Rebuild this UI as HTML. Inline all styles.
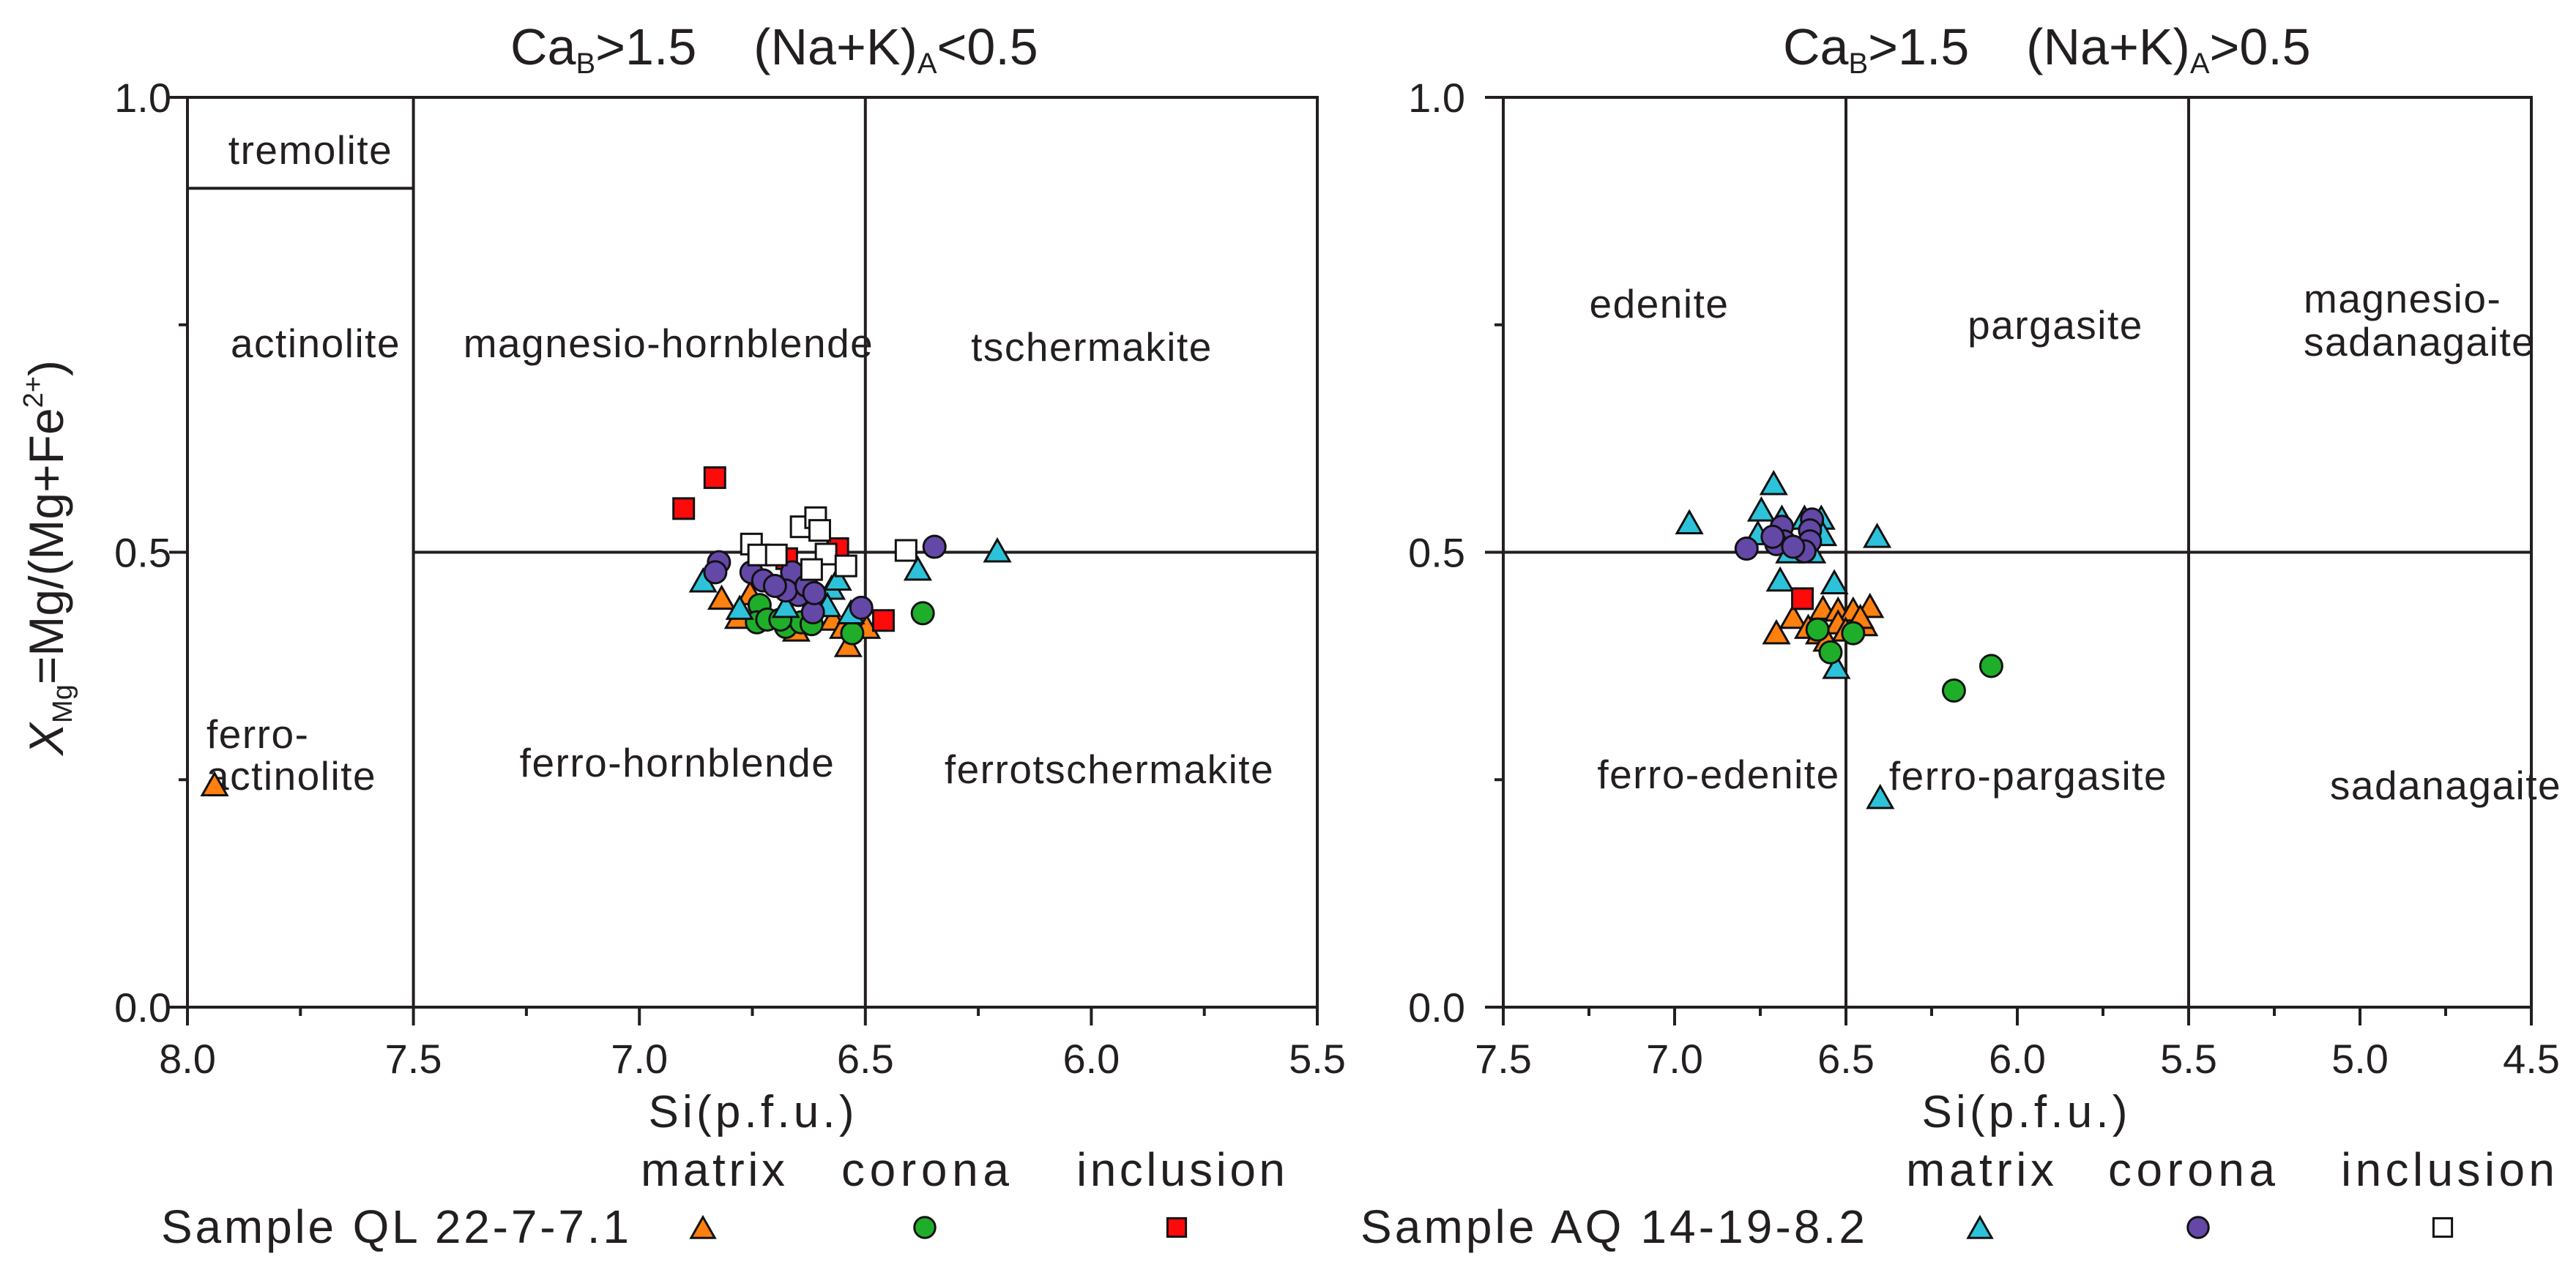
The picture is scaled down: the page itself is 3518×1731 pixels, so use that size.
<!DOCTYPE html>
<html><head><meta charset="utf-8"><style>
html,body{margin:0;padding:0;background:#fff;}
svg{display:block;}
text{font-family:"Liberation Sans",Arial,sans-serif;fill:#231f20;}
</style></head>
<body>
<svg id="chart" width="3518" height="1731" viewBox="0 0 3518 1731" xmlns="http://www.w3.org/2000/svg">
<rect width="3518" height="1731" fill="#fff"/>
<g id="layer"></g>
</svg>
<script>
// ---- Data: left panel (CaB>1.5, (Na+K)A<0.5) ----
const L_orange_x=[6.818,6.755,6.781,6.538,6.572,6.549,6.653,6.497,7.94];
const L_orange_y=[0.450,0.455,0.429,0.398,0.427,0.418,0.415,0.418,0.245];
const L_green_x=[6.734,6.740,6.717,6.676,6.642,6.619,6.688,6.529,6.373];
const L_green_y=[0.442,0.423,0.426,0.418,0.423,0.421,0.426,0.411,0.433];
const L_red_x=[6.833,6.902,6.460,6.561,6.674];
const L_red_y=[0.582,0.548,0.425,0.504,0.493];
const L_cyan_x=[6.859,6.778,6.575,6.561,6.384,6.208,6.584,6.532,6.676];
const L_cyan_y=[0.469,0.439,0.461,0.471,0.482,0.502,0.442,0.434,0.441];
const L_purple_x=[6.824,6.832,6.752,6.726,6.662,6.648,6.676,6.616,6.509,6.347,6.700,6.630,6.613];
const L_purple_y=[0.489,0.478,0.478,0.469,0.478,0.453,0.458,0.434,0.439,0.506,0.463,0.463,0.455];
const L_white_x=[6.752,6.736,6.697,6.642,6.610,6.601,6.587,6.619,6.543,6.410];
const L_white_y=[0.509,0.497,0.497,0.528,0.538,0.524,0.498,0.481,0.485,0.502];
// ---- Data: right panel (CaB>1.5, (Na+K)A>0.5) ----
const R_cyan_x=[6.957,6.711,6.747,6.757,6.687,6.621,6.572,6.567,6.409,6.692,6.534,6.528,6.665,6.599,6.40];
const R_cyan_y=[0.533,0.576,0.547,0.521,0.538,0.538,0.538,0.520,0.518,0.470,0.467,0.374,0.501,0.501,0.231];
const R_purple_x=[6.790,6.687,6.681,6.599,6.605,6.605,6.703,6.621,6.654,6.714];
const R_purple_y=[0.504,0.528,0.512,0.536,0.524,0.512,0.509,0.501,0.506,0.517];
const R_orange_x=[6.703,6.654,6.567,6.523,6.479,6.430,6.447,6.578,6.523,6.458,6.610,6.501,6.556];
const R_orange_y=[0.412,0.429,0.439,0.437,0.437,0.441,0.421,0.412,0.423,0.429,0.418,0.415,0.404];
const R_green_x=[6.583,6.479,6.545,6.185,6.076];
const R_green_y=[0.415,0.411,0.390,0.348,0.375];
const R_red_x=[6.627];
const R_red_y=[0.449];
// ticks
const L_xticks=[8.0,7.5,7.0,6.5,6.0,5.5];
const R_xticks=[7.5,7.0,6.5,6.0,5.5,5.0,4.5];
const yticks=[0.0,0.5,1.0];

const NS="http://www.w3.org/2000/svg";
const layer=document.getElementById('layer');
function mk(tag,attrs,parent){const e=document.createElementNS(NS,tag);for(const k in attrs)e.setAttribute(k,attrs[k]);(parent||layer).appendChild(e);return e;}
const COL={orange:'#ff7f0f',green:'#1fae2a',red:'#ff0a0a',cyan:'#2cc3da',purple:'#6448a8',white:'#ffffff'};

const TOP=133,BOT=1376;
function yS(v){return BOT-(BOT-TOP)*v;}
const LP={x0:256,x1:1799,d0:8.0,d1:5.5};
const RP={x0:2053,x1:3457,d0:7.5,d1:4.5};
function xS(p,v){return p.x0+(p.x1-p.x0)*(p.d0-v)/(p.d0-p.d1);}

function line(x1,y1,x2,y2,name,w){const l=mk('line',{x1:x1,y1:y1,x2:x2,y2:y2,stroke:'#231f20','stroke-width':w||4});

return l;}
function txt(x,y,s,size,name,opts){const t=mk('text',Object.assign({x:x,y:y,'font-size':size},opts||{}));t.textContent=s;

return t;}

function marker(shape,color,cx,cy,name,sz){
  sz=sz||1;let e;
  if(shape==='tri'){const w=17*sz,h=15*sz;e=mk('polygon',{points:`${cx},${cy-h} ${cx-w},${cy+h} ${cx+w},${cy+h}`,fill:color,stroke:'#111','stroke-width':3,'stroke-linejoin':'miter'});}
  else if(shape==='circ'){e=mk('circle',{cx:cx,cy:cy,r:15*sz,fill:color,stroke:'#111','stroke-width':3});}
  else {const s=14*sz;e=mk('rect',{x:cx-s,y:cy-s,width:2*s,height:2*s,fill:color,stroke:'#111','stroke-width':3});}
  
  
  return e;
}
function series(p,xs,ys,shape,color,name){for(let i=0;i<xs.length;i++){marker(shape,color,xS(p,xs[i]),yS(ys[i]),name);}}

function axes(p,xticks,prefix,labelRight){
  const fr=mk('rect',{x:p.x0,y:TOP,width:p.x1-p.x0,height:BOT-TOP,fill:'none',stroke:'#231f20','stroke-width':4});
  
  
  for(let v=p.d0;v>=p.d1-1e-9;v-=0.25){
    const major=Math.abs(v*2-Math.round(v*2))<1e-6;
    const x=xS(p,v);
    line(x,BOT,x,BOT+(major?25:12),prefix+'-x-tick',4);
  }
  xticks.forEach(v=>{txt(xS(p,v),1466,v.toFixed(1),56,prefix+'-x-tick-label',{'text-anchor':'middle'});});
  for(let v=0;v<=1.0001;v+=0.25){
    const major=Math.abs(v*2-Math.round(v*2))<1e-6;
    line(p.x0,yS(v),p.x0-(major?25:12),yS(v),prefix+'-y-tick',4);
  }
  yticks.forEach(v=>{txt(labelRight,yS(v)+20,v.toFixed(1),56,prefix+'-y-tick-label',{'text-anchor':'end'});});
}

const rl={'letter-spacing':1.5,'text-anchor':'middle'};
const ll={'letter-spacing':1.5};
// ---- Left panel ----
axes(LP,L_xticks,'left',234);
line(xS(LP,7.5),TOP,xS(LP,7.5),BOT,'left-boundary-7.5');
line(xS(LP,6.5),TOP,xS(LP,6.5),BOT,'left-boundary-6.5');
line(xS(LP,8.0),yS(0.9),xS(LP,7.5),yS(0.9),'tremolite-boundary');
line(xS(LP,7.5),yS(0.5),LP.x1,yS(0.5),'left-boundary-0.5');
txt(424,224,'tremolite',55,'tremolite-label',rl);
txt(431,488,'actinolite',55,'actinolite-label',rl);
txt(913,488,'magnesio-hornblende',55,'magnesio-hornblende-label',rl);
txt(1491,493,'tschermakite',55,'tschermakite-label',rl);
txt(282,1022,'ferro-',55,'ferro-actinolite-label',ll);
txt(282,1079,'actinolite',55,'ferro-actinolite-label-line2',ll);
txt(925,1061,'ferro-hornblende',55,'ferro-hornblende-label',rl);
txt(1515,1070,'ferrotschermakite',55,'ferrotschermakite-label',rl);
series(LP,L_orange_x,L_orange_y,'tri',COL.orange,'ql-matrix-point');
series(LP,L_green_x,L_green_y,'circ',COL.green,'ql-corona-point');
series(LP,L_red_x,L_red_y,'sq',COL.red,'ql-inclusion-point');
series(LP,L_cyan_x,L_cyan_y,'tri',COL.cyan,'aq-matrix-point');
series(LP,L_purple_x,L_purple_y,'circ',COL.purple,'aq-corona-point');
series(LP,L_white_x,L_white_y,'sq',COL.white,'aq-inclusion-point');

// ---- Right panel ----
axes(RP,R_xticks,'right',2001);
line(xS(RP,6.5),TOP,xS(RP,6.5),BOT,'right-boundary-6.5');
line(xS(RP,5.5),TOP,xS(RP,5.5),BOT,'right-boundary-5.5');
line(RP.x0,yS(0.5),RP.x1,yS(0.5),'right-boundary-0.5');
txt(2266,434,'edenite',55,'edenite-label',rl);
txt(2807,463,'pargasite',55,'pargasite-label',rl);
txt(3146,427,'magnesio-',55,'magnesio-sadanagaite-label',ll);
txt(3146,486,'sadanagaite',55,'magnesio-sadanagaite-label-line2',ll);
txt(2347,1077,'ferro-edenite',55,'ferro-edenite-label',rl);
txt(2770,1079,'ferro-pargasite',55,'ferro-pargasite-label',rl);
txt(3340,1092,'sadanagaite',55,'sadanagaite-label',rl);
series(RP,R_cyan_x,R_cyan_y,'tri',COL.cyan,'aq-matrix-point');
series(RP,R_purple_x,R_purple_y,'circ',COL.purple,'aq-corona-point');
series(RP,R_orange_x,R_orange_y,'tri',COL.orange,'ql-matrix-point');
series(RP,R_green_x,R_green_y,'circ',COL.green,'ql-corona-point');
series(RP,R_red_x,R_red_y,'sq',COL.red,'ql-inclusion-point');

// ---- Axis titles ----
txt(1026,1540,'Si(p.f.u.)',62,'left-x-axis-title',{'text-anchor':'middle','textLength':281});
txt(2765,1540,'Si(p.f.u.)',62,'right-x-axis-title',{'text-anchor':'middle','textLength':281});

// ---- Legend ----
txt(875,1620,'matrix',64,'legend-matrix-header-left',{textLength:197});
txt(1149,1620,'corona',64,'legend-corona-header-left',{textLength:229});
txt(1470,1620,'inclusion',64,'legend-inclusion-header-left',{textLength:285});
txt(2603,1620,'matrix',64,'legend-matrix-header-right',{textLength:202});
txt(2879,1620,'corona',64,'legend-corona-header-right',{textLength:228});
txt(3197,1620,'inclusion',64,'legend-inclusion-header-right',{textLength:292});
txt(220,1698,'Sample QL 22-7-7.1',64,'legend-sample-ql',{textLength:639});
txt(1858,1698,'Sample AQ 14-19-8.2',64,'legend-sample-aq',{textLength:689});
marker('tri',COL.orange,960,1677,'legend-ql-matrix-symbol',0.95);
marker('circ',COL.green,1263,1677,'legend-ql-corona-symbol',0.95);
marker('sq',COL.red,1607,1677,'legend-ql-inclusion-symbol',0.9);
marker('tri',COL.cyan,2704,1677,'legend-aq-matrix-symbol',0.95);
marker('circ',COL.purple,3002,1677,'legend-aq-corona-symbol',0.95);
marker('sq',COL.white,3336,1677,'legend-aq-inclusion-symbol',0.9);
</script>
<svg width="3518" height="1731" style="position:absolute;left:0;top:0;pointer-events:none" xmlns="http://www.w3.org/2000/svg">
<text x="697" y="88" font-size="70" xml:space="preserve" style="font-family:'Liberation Sans',sans-serif;fill:#231f20">Ca<tspan font-size="40" dy="12">B</tspan><tspan dy="-12">&gt;1.5    (Na+K)</tspan><tspan font-size="40" dy="12">A</tspan><tspan dy="-12">&lt;0.5</tspan></text>
<text x="2435" y="88" font-size="70" xml:space="preserve" style="font-family:'Liberation Sans',sans-serif;fill:#231f20">Ca<tspan font-size="40" dy="12">B</tspan><tspan dy="-12">&gt;1.5    (Na+K)</tspan><tspan font-size="40" dy="12">A</tspan><tspan dy="-12">&gt;0.5</tspan></text>
<text transform="translate(86,762) rotate(-90)" text-anchor="middle" font-size="66" style="font-family:'Liberation Sans',sans-serif;fill:#231f20"><tspan font-style="italic">X</tspan><tspan font-size="38" dy="12">Mg</tspan><tspan dy="-12">=Mg/(Mg+Fe</tspan><tspan font-size="38" dy="-28">2+</tspan><tspan dy="28">)</tspan></text>
</svg>
</body></html>
